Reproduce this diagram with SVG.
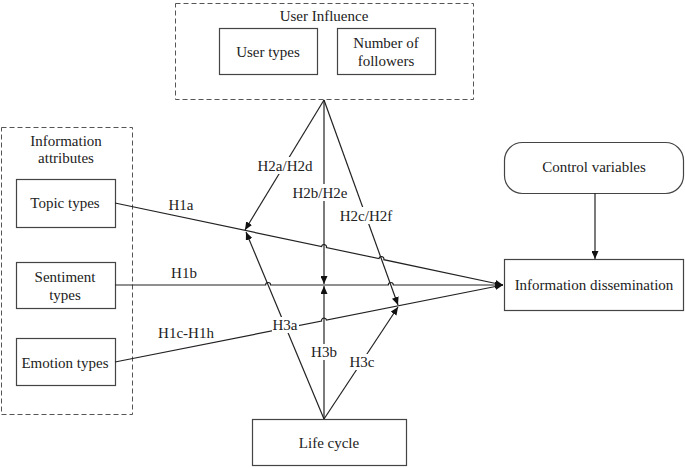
<svg xmlns="http://www.w3.org/2000/svg" width="685" height="468" viewBox="0 0 685 468" font-family="'Liberation Serif', 'DejaVu Serif', serif">
<style>
text{font-family:'Liberation Serif','DejaVu Serif',serif;font-size:15px;fill:#222;text-anchor:middle}
.box{fill:#fff;stroke:#444;stroke-width:1.2}
.dash{fill:none;stroke:#555;stroke-width:1;stroke-dasharray:5,3}
.ln{fill:none;stroke:#222;stroke-width:1.2}
.lbg{fill:#fff}
</style>
<defs>
<marker id="ah" markerUnits="userSpaceOnUse" markerWidth="9" markerHeight="7" refX="8" refY="3.5" orient="auto">
<path d="M0,0 L8,3.5 L0,7 z" fill="#111"/>
</marker>
</defs>
<rect width="685" height="468" fill="#fff"/>

<g id="user-influence">
<rect class="dash" x="175.5" y="3.5" width="298" height="96"/>
<text x="324" y="21">User Influence</text>
</g>
<g id="user-types">
<rect class="box" x="219.5" y="28.5" width="98" height="46"/>
<text x="268" y="57">User types</text>
</g>
<g id="number-of-followers">
<rect class="box" x="337.5" y="28.5" width="98" height="46"/>
<text x="386" y="48">Number of</text>
<text x="386" y="66">followers</text>
</g>

<g id="information-attributes">
<rect class="dash" x="1.5" y="127.5" width="131" height="287"/>
<text x="66" y="146">Information</text>
<text x="66" y="163">attributes</text>
</g>
<g id="topic-types">
<rect class="box" x="16.5" y="179.5" width="99" height="48"/>
<text x="65" y="208">Topic types</text>
</g>
<g id="sentiment-types">
<rect class="box" x="16.5" y="262.5" width="99" height="46"/>
<text x="65" y="282">Sentiment</text>
<text x="65" y="300">types</text>
</g>
<g id="emotion-types">
<rect class="box" x="16.5" y="338.5" width="99" height="47"/>
<text x="65" y="368">Emotion types</text>
</g>

<g id="control-variables">
<rect class="box" x="504.5" y="142.5" width="179" height="51" rx="18" ry="18"/>
<text x="594" y="172">Control variables</text>
</g>
<g id="information-dissemination">
<rect class="box" x="504.5" y="259.5" width="179" height="51"/>
<text x="594" y="290">Information dissemination</text>
</g>

<g id="life-cycle">
<rect class="box" x="252.5" y="419.5" width="154" height="46"/>
<text x="329" y="448">Life cycle</text>
</g>

<g id="connectors">
<path class="ln" marker-end="url(#ah)" d="M115,203 L321.55,246.5 A2.5,2.5 0 0 1 326.45,247.6 L378.95,258.6 A2.5,2.5 0 0 1 383.85,259.7 L503,285"/>
<path class="ln" marker-end="url(#ah)" d="M115,285 L265.6,285 A2.5,2.5 0 0 1 270.6,285 L388.3,285 A2.5,2.5 0 0 1 393.3,285 L503,285"/>
<path class="ln" marker-end="url(#ah)" d="M115,362 L321.55,321.1 A2.5,2.5 0 0 1 326.45,320.1 L503,285"/>
<path class="ln" marker-end="url(#ah)" d="M595,193 L595,259"/>
<path class="ln" marker-end="url(#ah)" d="M324,100 L245,230"/>
<path class="ln" marker-end="url(#ah)" d="M324,100 L324,284"/>
<path class="ln" marker-end="url(#ah)" d="M324,100 L398,305"/>
<path class="ln" marker-end="url(#ah)" d="M324,419 L246,232"/>
<path class="ln" marker-end="url(#ah)" d="M324,419 L324,286"/>
<path class="ln" marker-end="url(#ah)" d="M324,419 L398,307"/>
</g>

<g id="labels">
<text x="181" y="210">H1a</text>
<text x="184" y="278">H1b</text>
<text x="186" y="338">H1c-H1h</text>
<rect class="lbg" x="255" y="157" width="60" height="17"/>
<text x="285" y="171">H2a/H2d</text>
<rect class="lbg" x="290" y="184" width="60" height="17"/>
<text x="320" y="198">H2b/H2e</text>
<rect class="lbg" x="336" y="207" width="60" height="17"/>
<text x="366" y="221">H2c/H2f</text>
<rect class="lbg" x="272" y="317" width="27" height="16"/>
<text x="285" y="330">H3a</text>
<rect class="lbg" x="310" y="344" width="28" height="16"/>
<text x="324" y="357">H3b</text>
<rect class="lbg" x="348" y="354" width="28" height="16"/>
<text x="362" y="367">H3c</text>
</g>
</svg>
